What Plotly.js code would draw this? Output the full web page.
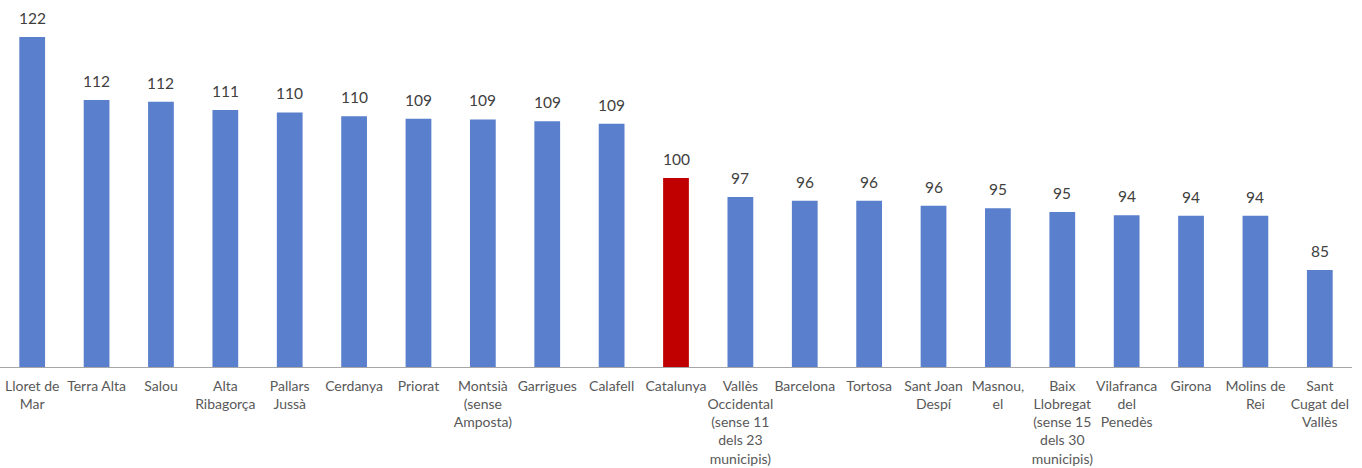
<!DOCTYPE html>
<html>
<head>
<meta charset="utf-8">
<script src="https://cdn.plot.ly/plotly-3.0.1.min.js"></script>
<style>html,body{margin:0;padding:0;background:#fff;}#chart{width:1362px;height:468px;}</style>
</head>
<body>
<div id="chart"></div>
<script>
const categories = [
  "Lloret de<br>Mar", "Terra Alta", "Salou", "Alta<br>Ribagorça", "Pallars<br>Jussà",
  "Cerdanya", "Priorat", "Montsià<br>(sense<br>Amposta)", "Garrigues", "Calafell",
  "Catalunya", "Vallès<br>Occidental<br>(sense 11<br>dels 23<br>municipis)", "Barcelona", "Tortosa",
  "Sant Joan<br>Despí", "Masnou,<br>el", "Baix<br>Llobregat<br>(sense 15<br>dels 30<br>municipis)",
  "Vilafranca<br>del<br>Penedès", "Girona", "Molins de<br>Rei", "Sant<br>Cugat del<br>Vallès"
];
const values = [122.4, 112.4, 112.1, 110.8, 110.4, 109.8, 109.4, 109.3, 109.0, 108.6,
                100.0, 97.0, 96.4, 96.4, 95.6, 95.2, 94.6, 94.1, 94.0, 94.0, 85.4];
const highlight = "Catalunya";

const colors = categories.map(c => c === highlight ? "#c00000" : "#5a7fcc");
const labels = values.map(v => String(Math.round(v)));

const annotations = categories.map((c, i) => ({
  x: c, y: values[i], xref: "x", yref: "y",
  text: labels[i], showarrow: false,
  yanchor: "bottom", yshift: 8,
  font: {family: "Lato, 'Liberation Sans', sans-serif", size: 15.5, color: "#404040"}
}));

Plotly.newPlot("chart", [{
  type: "bar",
  x: categories,
  y: values,
  marker: {color: colors},
  hoverinfo: "none"
}], {
  width: 1362, height: 468,
  margin: {l: 0, r: 10, t: 5, b: 101},
  paper_bgcolor: "#fff", plot_bgcolor: "#fff",
  bargap: 0.6,
  showlegend: false,
  annotations: annotations,
  xaxis: {
    type: "category",
    showline: true, linecolor: "#a6a6a6", linewidth: 1,
    ticks: "", showgrid: false,
    ticklabelstandoff: 6,
    tickfont: {family: "Lato, 'Liberation Sans', sans-serif", size: 14, color: "#595959"},
    tickangle: 0
  },
  yaxis: {
    range: [70, 127.46],
    visible: false, showgrid: false, zeroline: false
  }
}, {displayModeBar: false, staticPlot: true});
</script>
</body>
</html>
